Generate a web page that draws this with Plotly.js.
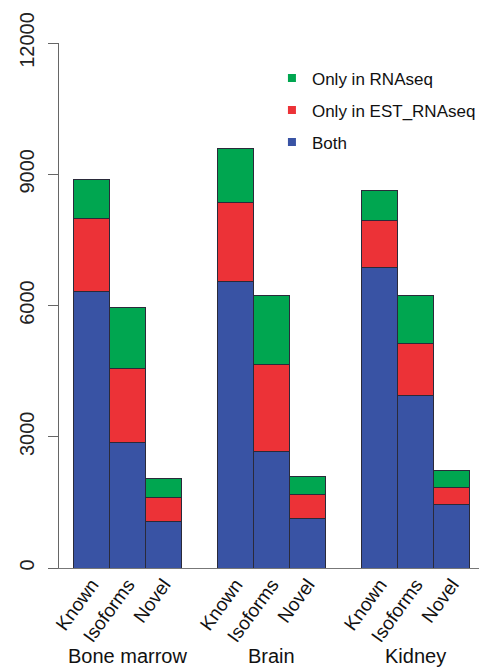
<!DOCTYPE html>
<html>
<head>
<meta charset="utf-8">
<script src="https://cdn.plot.ly/plotly-3.0.1.min.js"></script>
<style>html,body{margin:0;padding:0;background:#fff;}#chart{width:485px;height:668px;}</style>
</head>
<body>
<div id="chart"></div>
<script>
// Data
var tissues = ["Bone marrow", "Brain", "Kidney"];
var categories = ["Known", "Isoforms", "Novel"];
var seriesNames = ["Both", "Only in EST_RNAseq", "Only in RNAseq"];
// values per tissue, in category order [Known, Isoforms, Novel]
var both      = [[6330, 2860, 1060], [6540, 2670, 1130], [6860, 3950, 1460]];
var onlyEST   = [[1670, 1700,  560], [1810, 1990,  550], [1090, 1190,  380]];
var onlyRNA   = [[ 870, 1390,  430], [1230, 1560,  410], [ 670, 1100,  380]];
var yTicks = [0, 3000, 6000, 9000, 12000];

var colors = {"Both": "#3953A4", "Only in EST_RNAseq": "#EC3237", "Only in RNAseq": "#00A650"};
var FONT = "Liberation Sans, Arial, sans-serif";

// bar positions: groups separated by one bar width
var xs = [], labels = [];
tissues.forEach(function(t, g) {
  categories.forEach(function(c, i) { xs.push(g * 4 + i + 0.5); labels.push(c); });
});
function flat(a) { return [].concat.apply([], a); }

var seriesData = {"Both": both, "Only in EST_RNAseq": onlyEST, "Only in RNAseq": onlyRNA};
var traces = seriesNames.map(function(name) {
  return {
    type: "bar", x: xs, y: flat(seriesData[name]), width: 1, name: name,
    marker: {color: colors[name], line: {color: "#2a2a3a", width: 1}},
    showlegend: false, hoverinfo: "y"
  };
});
// legend entries (small squares), top-to-bottom order
["Only in RNAseq", "Only in EST_RNAseq", "Both"].forEach(function(name) {
  traces.push({
    type: "scatter", mode: "markers", x: [null], y: [null], name: name,
    legendgroup: name,
    marker: {symbol: "square", size: 8, color: colors[name]}, showlegend: true
  });
});

var annotations = tissues.map(function(t, g) {
  return {text: t, x: g * 4 + 1.5, xref: "x", y: -0.168, yref: "paper",
          showarrow: false, xanchor: "center", yanchor: "middle",
          font: {family: FONT, size: 20, color: "#111"}};
});

var layout = {
  width: 485, height: 668,
  margin: {l: 59, r: 4, t: 43, b: 100},
  paper_bgcolor: "#fff", plot_bgcolor: "#fff",
  barmode: "stack", bargap: 0,
  showlegend: true,
  legend: {x: 0.507, y: 0.967, xanchor: "left", yanchor: "top", traceorder: "grouped",
           tracegroupgap: 7, font: {family: FONT, size: 17, color: "#111"},
           bgcolor: "rgba(0,0,0,0)"},
  xaxis: {range: [-0.41, 11.25], tickvals: xs, ticktext: labels, tickangle: -54,
          showgrid: false, zeroline: false, showline: true, linecolor: "#777", linewidth: 1,
          ticks: "", ticklabelstandoff: -3, tickfont: {family: FONT, size: 19, color: "#111"}, fixedrange: true},
  yaxis: {range: [0, 12000], tickvals: yTicks, ticktext: yTicks.map(String), tickangle: -90,
          showgrid: false, zeroline: false, showline: true, linecolor: "#666", linewidth: 1,
          ticks: "outside", ticklen: 10, tickcolor: "#666", ticklabelstandoff: 6,
          tickfont: {family: FONT, size: 20, color: "#222"}, fixedrange: true},
  annotations: annotations
};

Plotly.newPlot("chart", traces, layout, {displayModeBar: false, staticPlot: true});
</script>
</body>
</html>
